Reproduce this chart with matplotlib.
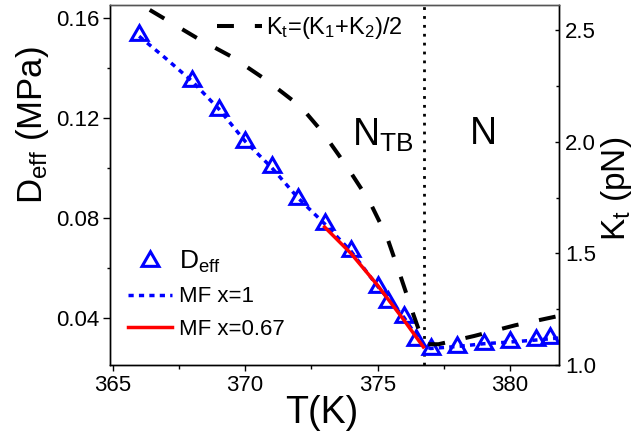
import matplotlib
matplotlib.use("Agg")
import matplotlib.pyplot as plt
from matplotlib.ticker import MultipleLocator

plt.rcParams['font.family'] = ['Liberation Sans', 'DejaVu Sans']
plt.rcParams['mathtext.default'] = 'regular'

# D_eff measured points (T in K, D in MPa)
deff_T = [366, 368, 369, 370, 371, 372, 373, 374, 375, 375.4, 376, 376.45, 377, 378, 379, 380, 381, 381.5]
deff_D = [0.1529, 0.1345, 0.1232, 0.1102, 0.1002, 0.0876, 0.0776, 0.0667, 0.0522, 0.0462, 0.0402, 0.0309, 0.0276, 0.0283, 0.0296, 0.0302, 0.0310, 0.0317]

# mean-field curve, x=1
mf1_T = [366, 367, 368, 369, 370, 371, 372, 373, 374, 375, 376, 376.7, 377, 378, 379, 380, 381, 381.85]
mf1_D = [0.1525, 0.1437, 0.1345, 0.1235, 0.1105, 0.1000, 0.0878, 0.0775, 0.0665, 0.0525, 0.0400, 0.0290, 0.0276, 0.0284, 0.0295, 0.0302, 0.0310, 0.0318]

# mean-field curve, x=0.67
mf067_T = [373.0, 374.0, 375.0, 376.0, 376.73]
mf067_D = [0.0762, 0.0656, 0.0529, 0.0389, 0.0282]

# K_t = (K1+K2)/2 (pN), right axis
kt_T = [366.4, 368.2, 369.5, 370.8, 372.1, 372.94, 373.84, 374.7, 375.35, 375.85, 376.35, 376.75, 377.3, 378.65, 380.2, 381.85]
kt_K = [2.59, 2.463, 2.38, 2.276, 2.157, 2.04, 1.889, 1.732, 1.575, 1.404, 1.227, 1.093, 1.093, 1.13, 1.178, 1.22]

T_transition = 376.75

fig = plt.figure(figsize=(6.41, 4.41), dpi=100)
ax = fig.add_axes([110/641, 1-365/441, 449/641, 360/441])
ax2 = ax.twinx()

h_mf1, = ax.plot(mf1_T, mf1_D, color='blue', lw=2.5, ls=(0, (1.5, 1.5)), label='MF x=1', zorder=2)
h_deff, = ax.plot(deff_T, deff_D, ls='none', marker=(3, 0, 0), ms=14, mfc='none', mec='blue',
                  mew=2.2, label='$D_{eff}$', zorder=4)
h_mf067, = ax.plot(mf067_T, mf067_D, color='red', lw=2.5, label='MF x=0.67', zorder=5)
ax.axvline(T_transition, color='black', lw=2, ls=(0, (1, 2.2)), zorder=1)

h_kt, = ax2.plot(kt_T, kt_K, color='black', lw=2.9, ls=(0, (4.2, 5.2)), label='$K_t$=($K_1$+$K_2$)/2')

ax.set_xlim(364.9, 381.85)
ax.set_ylim(0.021, 0.165)
ax2.set_ylim(1.0, 2.612)

ax.xaxis.set_major_locator(MultipleLocator(5))
ax.xaxis.set_minor_locator(MultipleLocator(2.5))
ax.yaxis.set_major_locator(MultipleLocator(0.04))
ax.yaxis.set_minor_locator(MultipleLocator(0.02))
ax2.yaxis.set_major_locator(MultipleLocator(0.5))
ax2.yaxis.set_minor_locator(MultipleLocator(0.25))

ax.tick_params(axis='x', which='major', direction='out', length=4, width=1, pad=3, labelsize=16)
ax.tick_params(axis='x', which='minor', direction='out', length=3, width=1)
ax.tick_params(axis='y', which='major', direction='out', length=5, width=1, pad=2.4, labelsize=16)
ax.tick_params(axis='y', which='minor', direction='out', length=2.5, width=1)
ax2.tick_params(axis='y', which='major', direction='in', length=3, width=1, pad=4.5, labelsize=16)
ax2.tick_params(axis='y', which='minor', direction='in', length=2.5, width=1)

for a in (ax, ax2):
    for s in ('left', 'bottom', 'right'):
        a.spines[s].set_linewidth(1.0)
    a.spines['top'].set_color('#555555')
    a.spines['top'].set_linewidth(1.0)

ax.set_xlabel('T(K)', fontsize=27)
ax.xaxis.set_label_coords(0.472, -0.083)
ax.set_ylabel('$D_{eff}$ (MPa)', fontsize=25)
ax.yaxis.set_label_coords(-0.131, 0.665)
ax2.set_ylabel('$K_t$ (pN)', fontsize=24)
ax2.yaxis.set_label_coords(1.09, 0.49)

ax.text(374.03, 0.1089, '$N_{TB}$', fontsize=27, ha='left', va='baseline')
ax.text(378.5, 0.1093, 'N', fontsize=27, ha='left', va='baseline')

leg1 = ax.legend(handles=[h_deff, h_mf1, h_mf067], loc='upper left', bbox_to_anchor=(0.040, 0.322),
                 frameon=False, fontsize=16, handlelength=2.0, handletextpad=0.3,
                 borderpad=0, borderaxespad=0, labelspacing=0.5, numpoints=1)
leg1.get_texts()[0].set_fontsize(19)

ax2.legend(handles=[h_kt], loc='upper left', bbox_to_anchor=(0.238, 0.972), frameon=False,
           fontsize=17, handlelength=1.9, handletextpad=0.2, borderpad=0, borderaxespad=0)

fig.savefig('out.png', dpi=100)
